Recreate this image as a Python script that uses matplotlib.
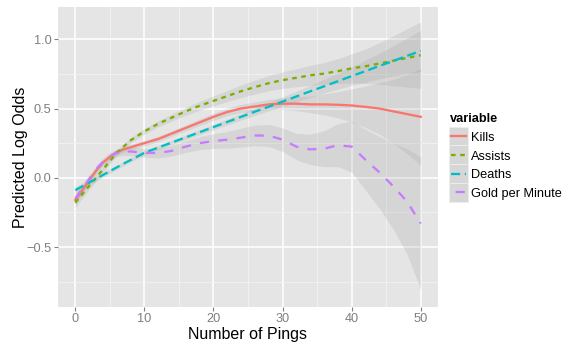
import matplotlib
matplotlib.use("Agg")
import matplotlib.pyplot as plt
from matplotlib.patches import Rectangle
from matplotlib.lines import Line2D

plt.rcParams["font.family"] = ["Liberation Sans", "DejaVu Sans"]

# Smoothed predictions (log odds) against number of pings
pings = [0, 1, 2, 3, 4, 5, 6, 7, 8, 10, 12, 14, 16, 18, 20, 22, 24, 26, 28,
         30, 32, 34, 36, 38, 40, 42, 44, 46, 48, 50]

kills = [-0.16, -0.09, -0.02, 0.05, 0.11, 0.15, 0.185, 0.205, 0.22, 0.25,
         0.28, 0.32, 0.36, 0.40, 0.44, 0.475, 0.50, 0.515, 0.53, 0.535,
         0.535, 0.53, 0.53, 0.527, 0.522, 0.512, 0.50, 0.48, 0.46, 0.44]
assists = [-0.18, -0.12, -0.06, 0.0, 0.06, 0.12, 0.18, 0.225, 0.27, 0.335,
           0.39, 0.435, 0.48, 0.52, 0.555, 0.59, 0.625, 0.655, 0.683, 0.705,
           0.722, 0.74, 0.752, 0.77, 0.79, 0.805, 0.825, 0.845, 0.865, 0.885]
deaths = [-0.09, -0.062, -0.035, -0.008, 0.02, 0.048, 0.075, 0.102, 0.128,
          0.18, 0.218, 0.255, 0.292, 0.329, 0.366, 0.403, 0.44, 0.477, 0.513,
          0.55, 0.587, 0.624, 0.66, 0.697, 0.734, 0.77, 0.807, 0.843, 0.88,
          0.916]
gold = [-0.15, -0.08, -0.01, 0.06, 0.115, 0.155, 0.18, 0.188, 0.19, 0.18,
        0.178, 0.195, 0.225, 0.25, 0.265, 0.275, 0.29, 0.305, 0.305, 0.275,
        0.225, 0.205, 0.21, 0.235, 0.225, 0.13, 0.04, -0.06, -0.17, -0.33]

# Half-widths of the confidence bands
kills_se = [0.03, 0.028, 0.025, 0.022, 0.02, 0.02, 0.02, 0.02, 0.02, 0.02,
            0.02, 0.02, 0.022, 0.024, 0.026, 0.028, 0.03, 0.033, 0.037, 0.042,
            0.05, 0.06, 0.075, 0.095, 0.12, 0.15, 0.185, 0.23, 0.285, 0.35]
assists_se = [0.035, 0.03, 0.027, 0.025, 0.022, 0.02, 0.02, 0.02, 0.02, 0.02,
              0.022, 0.025, 0.028, 0.032, 0.036, 0.04, 0.045, 0.05, 0.055,
              0.06, 0.065, 0.072, 0.08, 0.09, 0.105, 0.125, 0.15, 0.18, 0.21,
              0.24]
deaths_se = [0.025, 0.022, 0.02, 0.018, 0.016, 0.015, 0.015, 0.015, 0.015,
             0.015, 0.015, 0.016, 0.017, 0.018, 0.02, 0.022, 0.024, 0.027,
             0.03, 0.034, 0.038, 0.043, 0.05, 0.058, 0.068, 0.08, 0.093,
             0.108, 0.128, 0.15]
gold_se = [0.035, 0.032, 0.03, 0.028, 0.027, 0.027, 0.027, 0.028, 0.03, 0.032,
           0.035, 0.038, 0.042, 0.047, 0.053, 0.06, 0.068, 0.075, 0.08, 0.085,
           0.095, 0.11, 0.13, 0.155, 0.185, 0.22, 0.26, 0.31, 0.38, 0.48]

labels = ["Kills", "Assists", "Deaths", "Gold per Minute"]
colors = ["#F8766D", "#7CAE00", "#00BFC4", "#C77CFF"]
dashes = ["-", (0, (2, 2)), (0, (4, 2)), (0, (4, 4))]
key_dashes = ["-", (0, (2, 2)), (0, (4, 2)), (6, (4, 4))]
series = [kills, assists, deaths, gold]
bands = [kills_se, assists_se, deaths_se, gold_se]

PX = 0.72  # points per pixel at 100 dpi
W, H = 572, 347
fig = plt.figure(figsize=(W / 100, H / 100), dpi=100)
fig.patch.set_facecolor("white")


def fx(px):
    return px / W


def fy(py):
    return 1 - py / H


left, right, top, bottom = 58, 438, 7, 307
ax = fig.add_axes([fx(left), fy(bottom), (right - left) / W, (bottom - top) / H])
ax.set_facecolor("#E5E5E5")
for s in ax.spines.values():
    s.set_visible(False)

ax.set_xlim(-2.5, 52.5)
ax.set_ylim(-0.933, 1.233)

xt = [0, 10, 20, 30, 40, 50]
yt = [-0.5, 0.0, 0.5, 1.0]
ax.set_xticks(xt)
ax.set_xticklabels([str(v) for v in xt])
ax.set_yticks(yt)
ax.set_yticklabels(["\u22120.5", "0.0", "0.5", "1.0"])
ax.set_xticks([5, 15, 25, 35, 45], minor=True)
ax.set_yticks([-0.75, -0.25, 0.25, 0.75], minor=True)
ax.grid(which="major", color="white", linewidth=1.6 * PX)
ax.grid(which="minor", color="#F2F2F2", linewidth=0.9 * PX)
ax.set_axisbelow(True)
ax.tick_params(which="major", length=4 * PX, width=1.1 * PX, color="#7F7F7F",
               labelcolor="#7F7F7F", labelsize=12.8 * PX, pad=2.5 * PX)
ax.tick_params(which="minor", length=0)

lw = 2.3 * PX
for y, se, c, ls in zip(series, bands, colors, dashes):
    lo = [a - b for a, b in zip(y, se)]
    hi = [a + b for a, b in zip(y, se)]
    ax.fill_between(pings, lo, hi, color="#999999", alpha=0.2, linewidth=0)
    ax.plot(pings, y, color=c, linewidth=lw, linestyle=ls)

ax.set_xlabel("Number of Pings", fontsize=16 * PX, labelpad=1)
ax.set_ylabel("Predicted Log Odds", fontsize=16 * PX)
ax.yaxis.set_label_coords((28 - left) / (right - left), 0.5)

# Legend: title, key boxes with the line styles, labels
fs = 12.8 * PX
fig.text(fx(450), fy(122.3), "variable", fontsize=fs, fontweight="bold",
         ha="left", va="baseline")
key_left, key_w, key_top, key_h = 449.3, 19.0, 126.7, 18.75
for i, (lab, c, ls) in enumerate(zip(labels, colors, key_dashes)):
    y0 = key_top + i * key_h
    fig.add_artist(Rectangle((fx(key_left), fy(y0 + key_h)), key_w / W, key_h / H,
                             transform=fig.transFigure, facecolor="#D7D7D7",
                             edgecolor="#ECECEC", linewidth=1.0 * PX))
    yc = fy(y0 + key_h / 2)
    fig.add_artist(Line2D([fx(key_left + 0.1 * key_w), fx(key_left + 0.9 * key_w)],
                          [yc, yc], transform=fig.transFigure, color=c,
                          linewidth=lw, linestyle=ls))
    fig.text(fx(470.7), fy(y0 + key_h / 2 + 4.8), lab, fontsize=fs,
             ha="left", va="baseline")

fig.savefig("out.png", dpi=100)
